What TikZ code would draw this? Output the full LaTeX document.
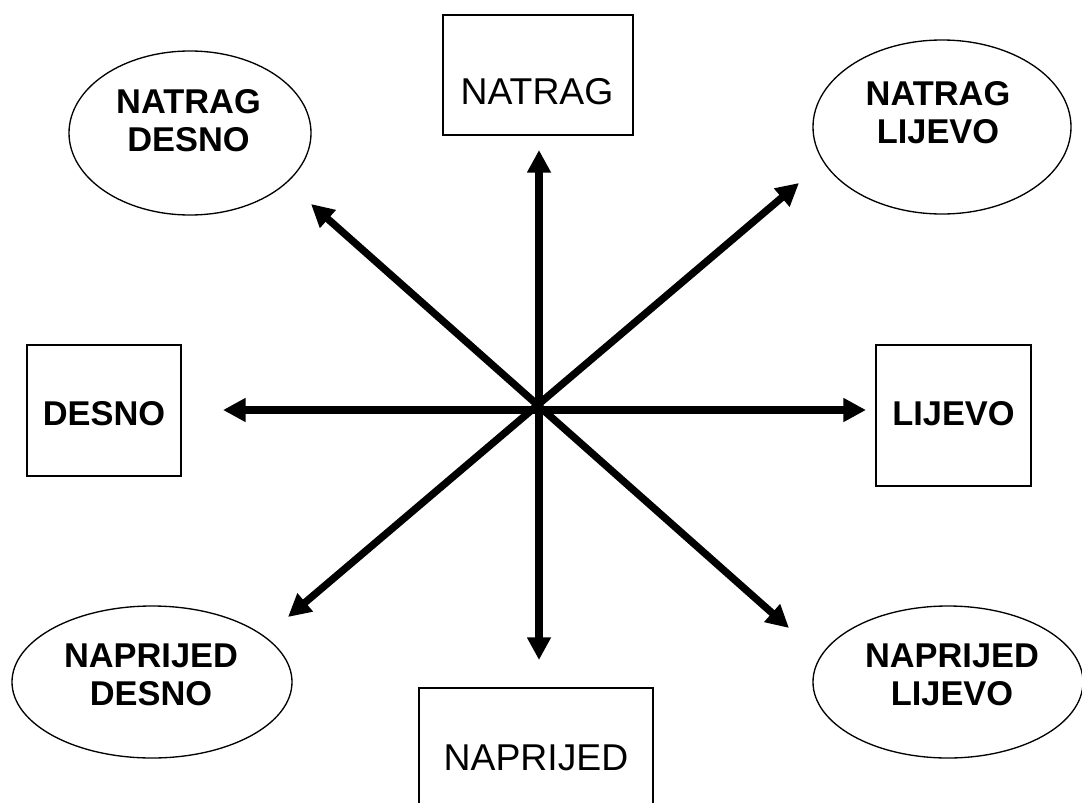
\documentclass[tikz,border=0pt]{standalone}
\usepackage{fontspec}
\setmainfont{Liberation Sans}
\usetikzlibrary{arrows.meta,shapes.geometric}
\begin{document}
\begin{tikzpicture}[x=0.75pt,y=-0.75pt,
  boxshape/.style={draw,line width=1.3pt,inner sep=0pt},
  ellshape/.style={draw,ellipse,line width=1pt,inner sep=0pt},
  plaintxt/.style={font=\fontsize{28}{33}\selectfont,inner sep=0pt},
  boldtxt/.style={font=\fontsize{25.8}{28.5}\selectfont\bfseries,align=center,inner sep=0pt},
  arr/.style={line width=5.5pt,{Triangle[length=17pt,width=17pt]}-{Triangle[length=17pt,width=17pt]}}]
\useasboundingbox (0,0) rectangle (1082,803);
\clip (0,0) rectangle (1082,803);
% boxes
\node[boxshape,minimum width={190*0.75pt},minimum height={120*0.75pt}] (bN) at (538,75) {};
\node[plaintxt] (bNt) at (537,91.5) {NATRAG};
\node[boxshape,minimum width={234*0.75pt},minimum height={142*0.75pt}] (bS) at (536,759) {};
\node[plaintxt] (bSt) at (536,758) {NAPRIJED};
\node[boxshape,minimum width={154*0.75pt},minimum height={131*0.75pt}] (bW) at (104,410.5) {};
\node[boldtxt] (bWt) at (104,414) {DESNO};
\node[boxshape,minimum width={155*0.75pt},minimum height={141*0.75pt}] (bE) at (953.5,415.5) {};
\node[boldtxt] (bEt) at (953.5,414) {LIJEVO};
% ellipses
\node[ellshape,minimum width={242*0.75pt},minimum height={164*0.75pt}] (eNW) at (190,133) {};
\node[boldtxt] (eNWt) at (188.5,121) {NATRAG\\DESNO};
\node[ellshape,minimum width={258*0.75pt},minimum height={174*0.75pt}] (eNE) at (942,127) {};
\node[boldtxt] (eNEt) at (938,113) {NATRAG\\LIJEVO};
\node[ellshape,minimum width={280*0.75pt},minimum height={152*0.75pt}] (eSW) at (152,682) {};
\node[boldtxt] (eSWt) at (151,674.5) {NAPRIJED\\DESNO};
\node[ellshape,minimum width={270*0.75pt},minimum height={152*0.75pt}] (eSE) at (948,682) {};
\node[boldtxt] (eSEt) at (952,674.5) {NAPRIJED\\LIJEVO};
% arrow tips
\coordinate (tN) at (539,150);
\coordinate (tS) at (539,660);
\coordinate (tW) at (223,410);
\coordinate (tE) at (866,410);
\coordinate (tNW) at (311,204);
\coordinate (tSE) at (789,628);
\coordinate (tNE) at (799,183);
\coordinate (tSW) at (288,617);
\draw[arr] (tN) -- (tS);
\draw[arr] (tW) -- (tE);
\draw[arr] (tNW) -- (tSE);
\draw[arr] (tNE) -- (tSW);
\end{tikzpicture}
\end{document}
